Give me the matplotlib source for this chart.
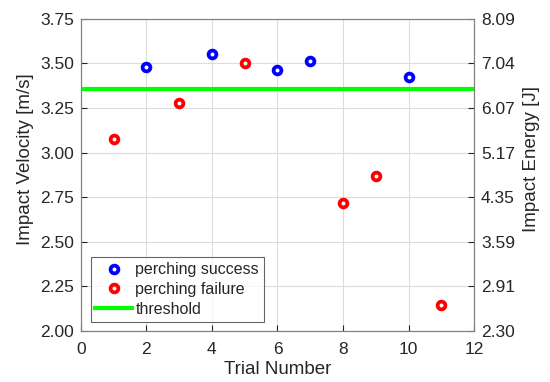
import matplotlib.pyplot as plt

plt.rcParams["font.family"] = ["Liberation Sans", "DejaVu Sans"]

# trial data
success_trials = [2, 4, 6, 7, 10]
success_velocity = [3.48, 3.555, 3.46, 3.515, 3.425]
failure_trials = [1, 3, 5, 8, 9, 11]
failure_velocity = [3.075, 3.275, 3.50, 2.72, 2.87, 2.145]
threshold = 3.355

velocity_ticks = [2.00, 2.25, 2.50, 2.75, 3.00, 3.25, 3.50, 3.75]
energy_labels = ["2.30", "2.91", "3.59", "4.35", "5.17", "6.07", "7.04", "8.09"]

txt = "#262626"
fig = plt.figure(figsize=(5.5, 3.82), dpi=100)
ax = fig.add_axes([0.147, 0.1335, 0.715, 0.8175])

ax.plot(success_trials, success_velocity, "o", color="#0000ff", mfc="white",
        ms=5.6, mew=2.7, label="perching success", zorder=3)
ax.plot(failure_trials, failure_velocity, "o", color="#ff0000", mfc="white",
        ms=5.6, mew=2.7, label="perching failure", zorder=3)
ax.axhline(threshold, color="#00ff00", lw=3, label="threshold", zorder=2)

ax.set_xlim(0, 12)
ax.set_ylim(2.0, 3.75)
ax.set_xticks(range(0, 13, 2))
ax.set_yticks(velocity_ticks)
ax.set_yticklabels([f"{v:.2f}" for v in velocity_ticks])
ax.grid(True, color="#dcdcdc", lw=0.8)
ax.set_axisbelow(True)
ax.tick_params(direction="in", labelsize=12.5, colors=txt, length=4)
ax.tick_params(axis="x", pad=8)
ax.tick_params(axis="y", pad=5)
ax.set_xlabel("Trial Number", fontsize=13.5, color=txt, labelpad=3)
ax.set_ylabel("Impact Velocity [m/s]", fontsize=13.5, color=txt, labelpad=4)
ax.yaxis.label.set_y(0.55)

ax2 = ax.twinx()
ax2.set_ylim(ax.get_ylim())
ax2.set_yticks(velocity_ticks)
ax2.set_yticklabels(energy_labels)
ax2.tick_params(direction="in", labelsize=12.5, colors=txt, length=4, pad=5)
ax2.set_ylabel("Impact Energy [J]", fontsize=13.5, color=txt, labelpad=6)
ax2.yaxis.label.set_y(0.55)

for a in (ax, ax2):
    for s in a.spines.values():
        s.set_color("#808080")
        s.set_linewidth(0.8)

leg = ax.legend(loc="lower left", fontsize=11.5, frameon=True, fancybox=False,
                edgecolor="#404040", handlelength=2.3, handletextpad=0.2,
                borderpad=0.3, labelspacing=0.3, borderaxespad=0,
                bbox_to_anchor=(0.025, 0.03))
leg.get_frame().set_linewidth(0.8)
for t in leg.get_texts():
    t.set_color(txt)

fig.savefig("out.png", dpi=100)
